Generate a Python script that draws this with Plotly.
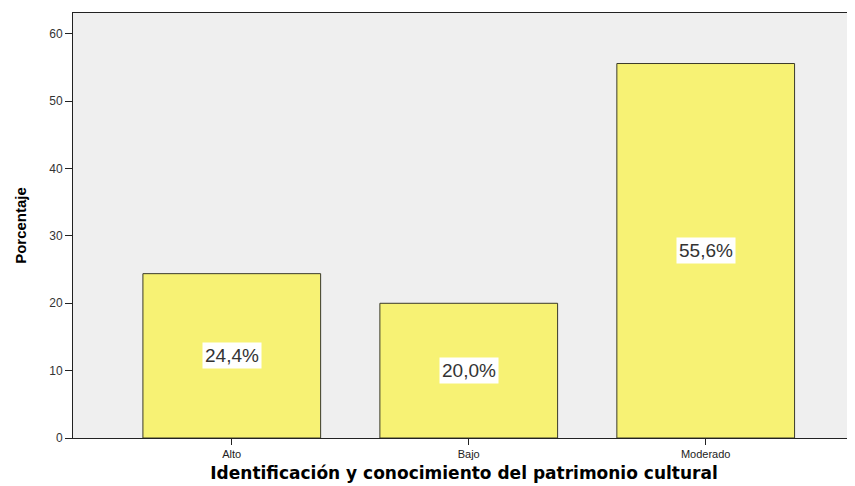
import plotly.graph_objects as go

categories = ["Alto", "Bajo", "Moderado"]
percentages = [24.4, 20.0, 55.6]
value_labels = ["24,4%", "20,0%", "55,6%"]
y_tick_values = [0, 10, 20, 30, 40, 50, 60]

fig = go.Figure()
fig.add_trace(go.Bar(
    x=list(range(len(categories))),
    y=percentages,
    width=0.75,
    marker=dict(color="#f7f274", line=dict(color="#3a3a2a", width=1)),
    hoverinfo="skip",
))

for i, (v, lab) in enumerate(zip(percentages, value_labels)):
    fig.add_annotation(
        x=i, y=v / 2, text=lab, showarrow=False,
        bgcolor="white", borderpad=2,
        font=dict(family="Arial, Liberation Sans", size=19, color="#333333"),
    )

fig.update_layout(
    width=847, height=478,
    margin=dict(l=65, r=0, t=5, b=48),
    paper_bgcolor="white",
    plot_bgcolor="#efefef",
    showlegend=False,
    xaxis=dict(
        range=[-0.67, 2.63],
        tickmode="array",
        tickvals=list(range(len(categories))),
        ticktext=categories,
        ticks="outside", ticklen=6, tickcolor="#222222", tickwidth=1,
        showline=True, linecolor="#222222", linewidth=1, mirror=True,
        showgrid=False, zeroline=False,
        tickfont=dict(family="Arial, Liberation Sans", size=11, color="#222222"),
        title=dict(
            text="Identificación y conocimiento del patrimonio cultural",
            font=dict(family="DejaVu Sans", size=17, color="black", weight="bold"),
            standoff=7,
        ),
    ),
    yaxis=dict(
        range=[0, 63.1],
        tickmode="array",
        tickvals=y_tick_values,
        ticks="outside", ticklen=7, tickcolor="#222222", tickwidth=1,
        showline=True, linecolor="#222222", linewidth=1,
        showgrid=False, zeroline=False,
        tickfont=dict(family="Arial, Liberation Sans", size=12, color="#333333"),
        title=dict(
            text="Porcentaje",
            font=dict(family="Liberation Sans Narrow, Arial Narrow, Liberation Sans", size=15, color="black", weight="bold"),
            standoff=18,
        ),
    ),
)

fig.write_html("out.html")
